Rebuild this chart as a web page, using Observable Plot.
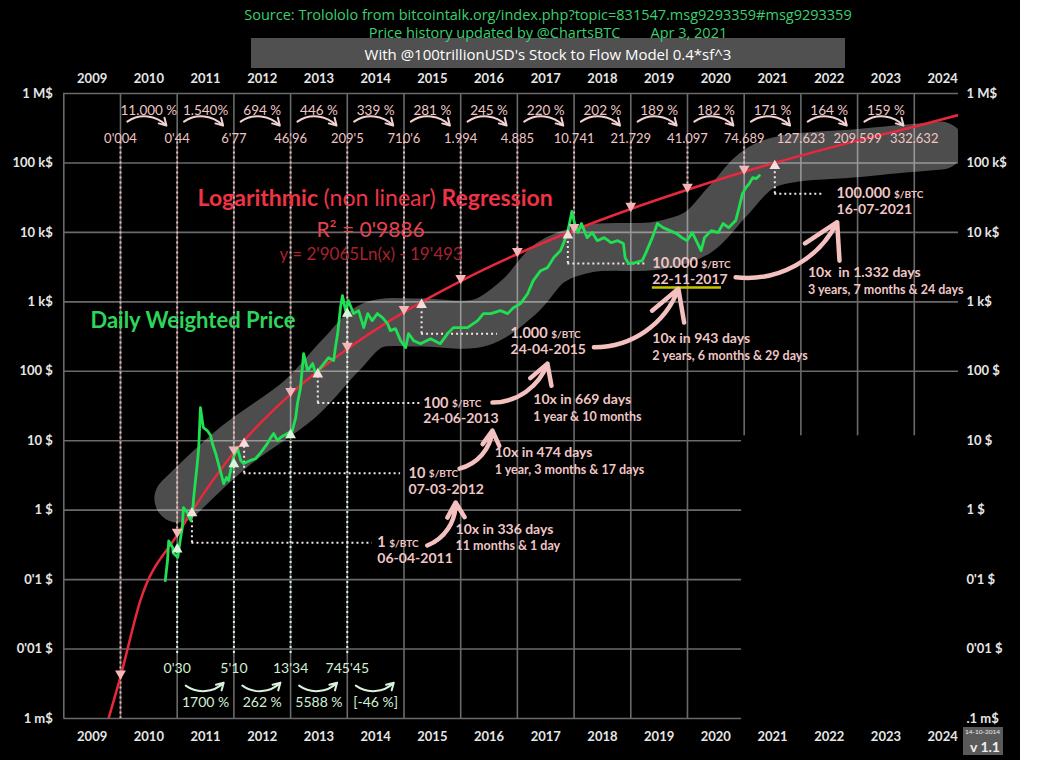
<!DOCTYPE html>
<html>
<head>
<meta charset="utf-8">
<script src="https://cdn.jsdelivr.net/npm/d3@7"></script>
<script src="https://cdn.jsdelivr.net/npm/@observablehq/plot@0.6"></script>
<style>
  body { margin: 0; background: #fff; }
  #wrap { position: relative; width: 1020px; height: 760px; background: #000; overflow: hidden; font-family: Lato, "Open Sans", sans-serif; }
  #wrap svg { position: absolute; left: 0; top: 0; }
  .ttl { position: absolute; left: 0; width: 1096px; text-align: center; color: #3dcf6f; font-size: 14.5px; line-height: 18px; white-space: pre; font-family: "Open Sans", sans-serif; z-index: 3; }
  #box { position: absolute; left: 251px; top: 38px; width: 594px; height: 30px; background: #505050; color: #fff; font-size: 15px; line-height: 32px; text-align: center; font-family: "Open Sans", sans-serif; z-index: 2; }
  #badge { position: absolute; left: 963px; top: 727px; width: 40px; height: 28px; background: #5a5a5a; color: #eee; z-index: 2; font-family: Lato, sans-serif; white-space: nowrap; }
  #badge .d { position: absolute; right: 3px; top: 1px; font-size: 6.5px; line-height: 8px; }
  #badge .v { position: absolute; right: 3px; bottom: 0px; font-size: 14px; line-height: 16px; font-weight: bold; }
</style>
</head>
<body>
<div id="wrap">
  <div class="ttl" style="top:6px">Source: Trolololo from bitcointalk.org/index.php?topic=831547.msg9293359#msg9293359</div>
  <div class="ttl" style="top:24px">Price history updated by @ChartsBTC        Apr 3, 2021</div>
  <div id="box">With @100trillionUSD's Stock to Flow Model 0.4*sf^3</div>
  <div id="badge"><span class="d">14-10-2014</span><span class="v">v 1.1</span></div>
</div>
<script>
// ---------------- data ----------------
const yearLabels = ["2009","2010","2011","2012","2013","2014","2015","2016","2017","2018","2019","2020","2021","2022","2023","2024"];
const gridYears = [2009,2010,2011,2012,2013,2014,2015,2016,2017,2018,2019,2020,2021,2022,2023,2024];
const yTicks = [1e-3,1e-2,1e-1,1,10,100,1e3,1e4,1e5,1e6];
const leftLabels = ["1 m$","0'01 $","0'1 $","1 $","10 $","100 $","1 k$","10 k$","100 k$","1 M$"];
const rightLabels = [".1 m$","0'01 $","0'1 $","1 $","10 $","100 $","1 k$","10 k$","100 k$","1 M$"];

// regression values printed along the top (1st of January of each year)
const regYears = [2010,2011,2012,2013,2014,2015,2016,2017,2018,2019,2020,2021,2022,2023,2024];
const regValues = [0.004,0.44,6.77,46.96,209.5,710.6,1994,4885,10741,21729,41097,74689,127623,209599,332632];
const regLabels = ["0'004","0'44","6'77","46'96","209'5","710'6","1.994","4.885","10.741","21.729","41.097","74.689","127.623","209.599","332.632"];
const topPct = ["11.000 %","1.540%","694 %","446 %","339 %","281 %","245 %","220 %","202 %","189 %","182 %","171 %","164 %","159 %"];

// red regression curve [year, USD]
const regCurve = [[2009.79,0.001],[2010,0.004],[2010.35,0.05],[2011,0.44],[2012,6.77],[2013,46.96],[2014,209.5],[2015,710.6],[2016,1994],[2017,4885],[2018,10741],[2019,21729],[2020,41097],[2021,74689],[2022,127623],[2023,209599],[2024,332632],[2024.78,490000]];

// prices on 1st of January (bottom labels)
const bottomYears = [2011,2012,2013,2014];
const bottomPrices = [0.30,5.10,13.34,745.45];
const bottomLabels = ["0'30","5'10","13'34","745'45"];
const bottomPct = ["1700 %","262 %","5588 %","[-46 %]"];

// daily weighted price [year, USD]
const priceSeries = [
  [2010.79,0.097],[2010.83,0.19],[2010.85,0.36],[2010.92,0.29],[2010.93,0.24],[2011.01,0.21],[2011.06,0.40],[2011.09,0.56],
  [2011.11,1.09],[2011.18,0.92],[2011.24,0.71],[2011.27,0.89],[2011.29,1.5],[2011.36,5.2],[2011.38,8.0],[2011.41,30],
  [2011.46,15.5],[2011.53,14],[2011.59,11.9],[2011.62,9.1],[2011.68,6.5],[2011.76,3.7],[2011.82,2.4],[2011.87,2.95],
  [2011.905,2.67],[2011.99,5.7],[2012.06,8.0],[2012.12,5.2],[2012.17,4.7],[2012.29,5.2],[2012.38,5.5],[2012.47,6.7],
  [2012.59,9.1],[2012.65,11.1],[2012.70,12.7],[2012.77,10.0],[2012.82,11.1],[2012.945,12.7],[2013.03,14],[2013.09,21.5],
  [2013.12,34],[2013.175,58],[2013.23,180],[2013.30,102],[2013.39,129],[2013.44,93],[2013.53,113],[2013.67,157],
  [2013.76,143],[2013.79,219],[2013.83,349],[2013.88,826],[2013.915,1230],[2013.97,747],[2014.02,1040],[2014.11,677],
  [2014.20,747],[2014.29,425],[2014.36,677],[2014.44,536],[2014.53,677],[2014.62,593],[2014.71,485],[2014.76,385],
  [2014.85,411],[2014.94,276],[2015.03,219],[2015.08,349],[2015.17,276],[2015.29,250],[2015.47,295],[2015.64,250],
  [2015.77,349],[2015.87,425],[2016.12,425],[2016.30,536],[2016.40,677],[2016.53,677],[2016.70,747],[2016.83,677],
  [2016.93,824],[2017.055,942],[2017.18,1310],[2017.28,2020],[2017.41,2810],[2017.53,3100],[2017.64,4330],[2017.76,5460],
  [2017.81,6880],[2017.88,9600],[2017.94,16300],[2017.96,20000],[2018.01,13400],[2018.07,9930],[2018.13,13400],[2018.23,8400],
  [2018.32,9930],[2018.41,7600],[2018.53,8400],[2018.65,7100],[2018.77,7600],[2018.87,6900],[2018.90,4330],[2018.96,3550],
  [2019.08,3670],[2019.20,3920],[2019.26,4940],[2019.38,8400],[2019.47,13400],[2019.57,11700],[2019.69,10600],[2019.81,9600],
  [2019.90,8400],[2019.99,7600],[2020.085,9930],[2020.18,6900],[2020.24,5460],[2020.30,8400],[2020.42,10600],[2020.54,9930],
  [2020.63,13400],[2020.725,11700],[2020.85,14800],[2020.91,22800],[2020.97,36200],[2021.03,44200],[2021.09,50400],[2021.15,61500],
  [2021.21,59500],[2021.27,65800]
];

// grey highlight band, centre line [year, USD]
const bandSeries = [[2011.02,1.47],[2011.99,8.0],[2013.175,40.5],[2013.88,169],[2014.44,457],[2015.29,503],[2016.35,503],[2017.055,1230],[2017.58,3670],[2018.25,5850],[2019.47,6460],[2020.18,9930],[2020.72,28700],[2021.36,91600],[2023.10,141000],[2024.46,178000]];

// dates on which the regression reaches each level
const markerLevels = [1,10,100,1000,10000,100000];
const markerNums = ["1","10","100","1.000","10.000","100.000"];
const markerDates = ["06-04-2011","07-03-2012","24-06-2013","24-04-2015","22-11-2017","16-07-2021"];
const markerYears = [2011.26,2012.18,2013.48,2015.31,2017.89,2021.54];
const markerFoot = [0.34,3.4,35,348,3550,36100];
const markerEnd = [2014.44,2014.94,2015.29,2016.65,2019.26,2022.40];

const tenxTitle = ["10x in 336 days","10x in 474 days","10x in 669 days","10x in 943 days","10x  in 1.332 days"];
const tenxSpan = ["11 months & 1 day","1 year, 3 months & 17 days","1 year & 10 months","2 years, 6 months & 29 days","3 years, 7 months & 24 days"];

// ---------------- layout of annotations ----------------
const markerLabelX = [2014.53,2015.08,2015.34,2016.88,2019.38,2022.63];
const tenxPos = [[2015.91,0.53],[2016.60,6.7],[2017.28,38.6],[2019.38,296],[2022.125,2640]];
const bigArrowPos = [
  [2015.41,0.31,2015.91,1.29],
  [2015.98,3.97,2016.56,14],
  [2016.56,35.5,2017.53,129],
  [2018.35,222,2019.84,1540],
  [2020.85,2260,2022.64,14000]
];

const PXW = 56.7;          // pixels per year
const PXY = 1 / PXW;       // one pixel in years
const ctx = document.createElement("canvas").getContext("2d");
const tw = (s, font) => { ctx.font = font; return ctx.measureText(s).width; };

const pair = arr => arr.map(([t, v]) => ({t, v}));
const price = pair(priceSeries);
const band = pair(bandSeries);
const reg = pair(regCurve);
const regPts = regYears.map((t, i) => ({t, v: regValues[i], label: regLabels[i]}));
const pinkPts = regPts.filter(d => d.t <= 2021);
const pctPts = topPct.map((p, i) => ({t: regYears[i] + 0.5, label: p}));
const botPts = bottomYears.map((t, i) => ({t, v: bottomPrices[i], label: bottomLabels[i], pct: bottomPct[i]}));
const NUMFS = 14.5;
const markers = markerLevels.map((lv, i) => ({
  level: lv, num: markerNums[i], date: markerDates[i], t: markerYears[i], foot: markerFoot[i], end: markerEnd[i],
  lx: markerLabelX[i],
  unitX: markerLabelX[i] + tw(markerNums[i] + " ", `bold ${NUMFS}px Lato`) * PXY
}));
const tenx = tenxTitle.map((s, i) => ({t: tenxPos[i][0], v: tenxPos[i][1], a: s, b: tenxSpan[i]}));
const bigArrows = bigArrowPos.map(a => ({x1: a[0], y1: a[1], x2: a[2], y2: a[3]}));
const yearCenters = gridYears.map(y => y + 0.5);

// title words placed one after another
const TFS = 23;
const tx0 = 2011.36;
const tx1 = tx0 + tw("Logarithmic ", `bold ${TFS}px Lato`) * PXY;
const tx2 = tx1 + tw("(non linear) ", `${TFS}px Lato`) * PXY;

const PINK = "#f0b8b8", PINKTXT = "#efc6c6", GREENTXT = "#d3f0d6", GRID = "#6a6a6a";
const XMAX = 2024.78;

const chart = Plot.plot({
  width: 1020, height: 760,
  marginLeft: 63.3, marginRight: 62, marginTop: 93, marginBottom: 42,
  style: {background: "transparent", color: "#e6e6e6", fontFamily: "Lato, sans-serif"},
  x: {domain: [2009, XMAX], axis: null, label: null},
  y: {type: "log", domain: [1e-3, 1e6], axis: null, label: null},
  marks: [
    Plot.gridY(yTicks, {stroke: GRID, strokeOpacity: 1, strokeWidth: 1.6}),
    Plot.gridX(gridYears, {stroke: GRID, strokeOpacity: 1, strokeWidth: 1.6}),
    Plot.rect([0], {x1: 2020.99, x2: XMAX, y1: 1e-3, y2: 11, fill: "#000", inset: -2}),
    // axes
    Plot.axisX(yearCenters, {anchor: "top", tickSize: 0, tickPadding: 11, label: null, tickFormat: d => yearLabels[yearCenters.indexOf(d)], fontSize: 13, fontWeight: "bold", fill: "#e6e6e6"}),
    Plot.axisX(yearCenters, {anchor: "bottom", tickSize: 0, tickPadding: 13, label: null, tickFormat: d => yearLabels[yearCenters.indexOf(d)], fontSize: 13, fontWeight: "bold", fill: "#e6e6e6"}),
    Plot.axisY(yTicks, {anchor: "left", tickSize: 0, tickPadding: 11, label: null, tickFormat: d => leftLabels[yTicks.indexOf(d)], fontSize: 13, fontWeight: "bold", fill: "#e6e6e6"}),
    Plot.axisY(yTicks, {anchor: "right", tickSize: 0, tickPadding: 8, label: null, tickFormat: d => rightLabels[yTicks.indexOf(d)], fontSize: 13, fontWeight: "bold", fill: "#e6e6e6"}),
    // grey band
    Plot.line(band, {x: "t", y: "v", stroke: "#ffffff", strokeOpacity: 0.3, strokeWidth: 48, strokeLinecap: "round", strokeLinejoin: "round", curve: "catmull-rom", clip: true}),
    // pink dotted verticals from the top values down to the regression curve
    Plot.ruleX(pinkPts, {x: "t", y1: 2e5, y2: d => d.t === 2010 ? 1e-3 : d.v, stroke: PINK, strokeWidth: 2, strokeDasharray: "2,3"}),
    // green dotted verticals from the bottom values up to the price
    Plot.ruleX(botPts, {x: "t", y1: 0.0086, y2: "v", stroke: "#d8f5dc", strokeWidth: 2, strokeDasharray: "2,3"}),
    // level markers
    Plot.ruleX(markers, {x: "t", y1: "foot", y2: "level", stroke: "#f6e6e6", strokeWidth: 2, strokeDasharray: "2,3"}),
    Plot.ruleY(markers, {y: "foot", x1: "t", x2: "end", stroke: "#f6e6e6", strokeWidth: 2, strokeDasharray: "2,3"}),
    // regression curve
    Plot.line(reg, {x: "t", y: "v", stroke: "#e8283c", strokeWidth: 2.5, curve: "monotone-x", clip: true}),
    // price
    Plot.line(price, {x: "t", y: "v", stroke: "#1fe052", strokeWidth: 2.8, strokeLinejoin: "round"}),
    // arrow heads
    Plot.dot(pinkPts, {x: "t", y: "v", symbol: "triangle", r: 4, fill: PINK, rotate: 180, dy: -3}),
    Plot.dot(botPts, {x: "t", y: "v", symbol: "triangle", r: 4, fill: "#d8f5dc", dy: 3}),
    Plot.dot(markers, {x: "t", y: "level", symbol: "triangle", r: 4, fill: "#f6dede", dy: 3}),
    // top percentages and values
    Plot.text(pctPts, {x: "t", frameAnchor: "top", dy: 12, text: "label", fill: PINKTXT, fontSize: 13.5}),
    Plot.arrow(pctPts, {x1: d => d.t - 0.38, x2: d => d.t + 0.31, y1: 394000, y2: 345000, bend: 40, stroke: "#f2d2d2", strokeWidth: 2, headLength: 6}),
    Plot.text(regPts, {x: "t", frameAnchor: "top", dy: 40, text: "label", fill: PINKTXT, fontSize: 13}),
    // bottom values and percentages
    Plot.text(botPts, {x: "t", frameAnchor: "bottom", dy: -46, text: "label", fill: GREENTXT, fontSize: 14}),
    Plot.arrow(botPts, {x1: d => d.t + 0.15, x2: d => d.t + 0.82, y1: 0.00297, y2: 0.00328, bend: -40, stroke: "#d8f2dc", strokeWidth: 2, headLength: 6}),
    Plot.text(botPts, {x: d => d.t + 0.5, frameAnchor: "bottom", dy: -12, text: "pct", fill: GREENTXT, fontSize: 14}),
    // level marker labels
    Plot.text(markers, {x: "lx", y: "foot", text: "num", textAnchor: "start", fill: PINKTXT, fontSize: NUMFS, fontWeight: "bold"}),
    Plot.text(markers, {x: "unitX", y: "foot", dy: 1, text: () => "$/BTC", textAnchor: "start", fill: PINKTXT, fontSize: 10, fontWeight: "bold"}),
    Plot.text(markers, {x: "lx", y: "foot", dy: 16, text: "date", textAnchor: "start", fill: PINKTXT, fontSize: 14, fontWeight: "bold"}),
    Plot.ruleY([3550], {x1: 2019.38, x2: 2020.60, dy: 24, stroke: "#c8c400", strokeWidth: 2.5}),
    // 10x annotations
    Plot.text(tenx, {x: "t", y: "v", text: "a", textAnchor: "start", fill: PINKTXT, fontSize: 14, fontWeight: "bold"}),
    Plot.text(tenx, {x: "t", y: "v", dy: 17, text: "b", textAnchor: "start", fill: PINKTXT, fontSize: 12.5, fontWeight: "bold"}),
    Plot.arrow(bigArrows, {x1: "x1", y1: "y1", x2: "x2", y2: "y2", bend: -35, stroke: "#f5c0c0", strokeWidth: 4.5, headLength: 16}),
    // titles inside the chart
    Plot.text([0], {x: tx0, y: 30700, text: () => "Logarithmic", textAnchor: "start", fill: "#ee3346", fontSize: TFS, fontWeight: "bold"}),
    Plot.text([0], {x: tx1, y: 30700, text: () => "(non linear)", textAnchor: "start", fill: "#ee3346", fontSize: TFS}),
    Plot.text([0], {x: tx2, y: 30700, text: () => "Regression", textAnchor: "start", fill: "#ee3346", fontSize: TFS, fontWeight: "bold"}),
    Plot.text([0], {x: 2014.41, y: 10640, text: () => "R² = 0'9886", fill: "#e8404f", fontSize: 21}),
    Plot.text([0], {x: 2014.42, y: 4800, text: () => "y = 2'9065Ln(x) - 19'493", fill: "#a8232f", fontSize: 17}),
    Plot.text([0], {x: 2009.47, y: 532, text: () => "Daily Weighted Price", textAnchor: "start", fill: "#2fd45a", fontSize: 22, fontWeight: "bold"})
  ]
});
document.getElementById("wrap").appendChild(chart);
</script>
</body>
</html>
